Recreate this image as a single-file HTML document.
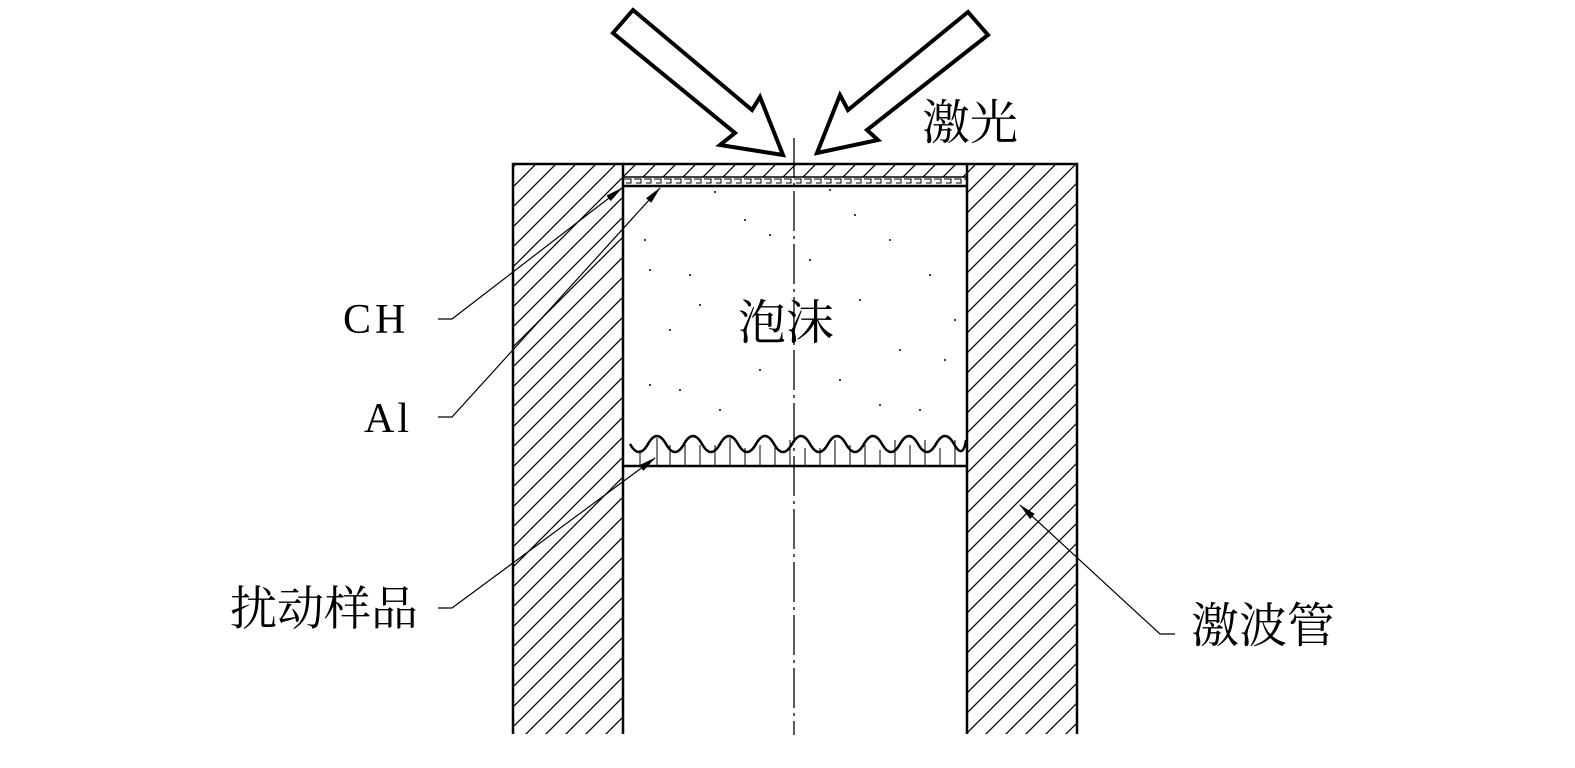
<!DOCTYPE html>
<html><head><meta charset="utf-8"><style>
html,body{margin:0;padding:0;background:#fff;}
svg{display:block;}
text{font-family:"Liberation Serif","Noto Serif CJK SC",serif;fill:#000;}
</style></head><body>
<svg width="1575" height="768" viewBox="0 0 1575 768" xmlns="http://www.w3.org/2000/svg">
<defs>
<pattern id="h" patternUnits="userSpaceOnUse" width="20" height="20">
<path d="M-5,25 L25,-5 M-5,5 L5,-5 M15,25 L25,15" stroke="#000" stroke-width="1.3"/>
</pattern>
<pattern id="c" patternUnits="userSpaceOnUse" width="10" height="8" x="623" y="177">
<path d="M1,2 H8 V6 H3" stroke="#000" stroke-width="1" fill="none"/>
</pattern>
<marker id="a" markerWidth="18" markerHeight="9" refX="17" refY="4.5" orient="auto" markerUnits="userSpaceOnUse">
<path d="M0,1 L18,4.5 L0,8 Z" fill="#000"/>
</marker>
</defs>
<rect x="513" y="164" width="110" height="570" fill="url(#h)"/>
<rect x="967" y="164" width="110" height="570" fill="url(#h)"/>
<path d="M513,734 V164 H623 V734 M967,734 V164 H1077 V734" fill="none" stroke="#000" stroke-width="2.5"/>
<rect x="623" y="165" width="344" height="12" fill="url(#h)"/>
<rect x="623" y="177" width="344" height="8" fill="url(#c)"/>
<line x1="623" y1="164" x2="967" y2="164" stroke="#000" stroke-width="2.5"/>
<line x1="623" y1="177" x2="967" y2="177" stroke="#000" stroke-width="1.5"/>
<line x1="623" y1="186" x2="967" y2="186" stroke="#000" stroke-width="2.5"/>
<g fill="#000">
<circle cx="715" cy="192" r="1"/><circle cx="745" cy="220" r="1"/><circle cx="855" cy="215" r="1"/><circle cx="650" cy="270" r="1"/><circle cx="690" cy="275" r="1"/><circle cx="890" cy="240" r="1"/><circle cx="930" cy="275" r="1"/><circle cx="670" cy="330" r="1"/><circle cx="860" cy="300" r="1"/><circle cx="900" cy="350" r="1"/><circle cx="650" cy="385" r="1"/><circle cx="680" cy="390" r="1"/><circle cx="760" cy="370" r="1"/><circle cx="840" cy="380" r="1"/><circle cx="945" cy="360" r="1"/><circle cx="720" cy="410" r="1"/><circle cx="880" cy="405" r="1"/><circle cx="770" cy="235" r="1"/><circle cx="810" cy="260" r="1"/><circle cx="955" cy="320" r="1"/><circle cx="645" cy="240" r="1"/><circle cx="700" cy="305" r="1"/><circle cx="920" cy="410" r="1"/><circle cx="830" cy="190" r="1"/>
</g>
<path d="M630,444 Q639,460 648,444 T666,444 T684,444 T702,444 T720,444 T738,444 T756,444 T774,444 T792,444 T810,444 T828,444 T846,444 T864,444 T882,444 T900,444 T918,444 T936,444 T954,444 T966,440" fill="none" stroke="#000" stroke-width="2.5"/>
<g stroke="#000" stroke-width="1">
<path d="M640,450V465M657,438V465M670,445V465M685,440V465M700,445V465M715,445V465M730,438V465M745,448V465M760,445V465M775,445V465M790,440V465M805,448V465M820,448V465M835,440V465M850,445V465M865,445V465M880,450V465M895,440V465M910,445V465M925,440V465M940,448V465M955,440V465"/>
</g>
<line x1="623" y1="466" x2="967" y2="466" stroke="#000" stroke-width="2.5"/>
<line x1="794" y1="138" x2="794" y2="735" stroke="#000" stroke-width="1.3" stroke-dasharray="40,5,3,5"/>
<polygon points="633,10 752,110 760,97 783,155 720,145 735,133 613,33" fill="#fff" stroke="#000" stroke-width="4"/>
<polygon points="968,12 988,35 867,130 878,140 817,153 840,95 848,110" fill="#fff" stroke="#000" stroke-width="4"/>
<g stroke="#000" stroke-width="1.2" fill="none">
<polyline points="438,319 452,319 622,188" marker-end="url(#a)"/>
<polyline points="438,417 452,417 660,188" marker-end="url(#a)"/>
<polyline points="438,608 452,608 655,458" marker-end="url(#a)"/>
<polyline points="1175,634 1160,634 1020,505" marker-end="url(#a)"/>
</g>
<text x="343" y="333" font-size="42" letter-spacing="4">CH</text>
<text x="364" y="432" font-size="42" letter-spacing="3">Al</text>
<text x="230" y="625" font-size="47">扰动样品</text>
<text x="1191" y="642" font-size="48">激波管</text>
<text x="922" y="139" font-size="48">激光</text>
<text x="738" y="339" font-size="48">泡沫</text>
</svg>
</body></html>
